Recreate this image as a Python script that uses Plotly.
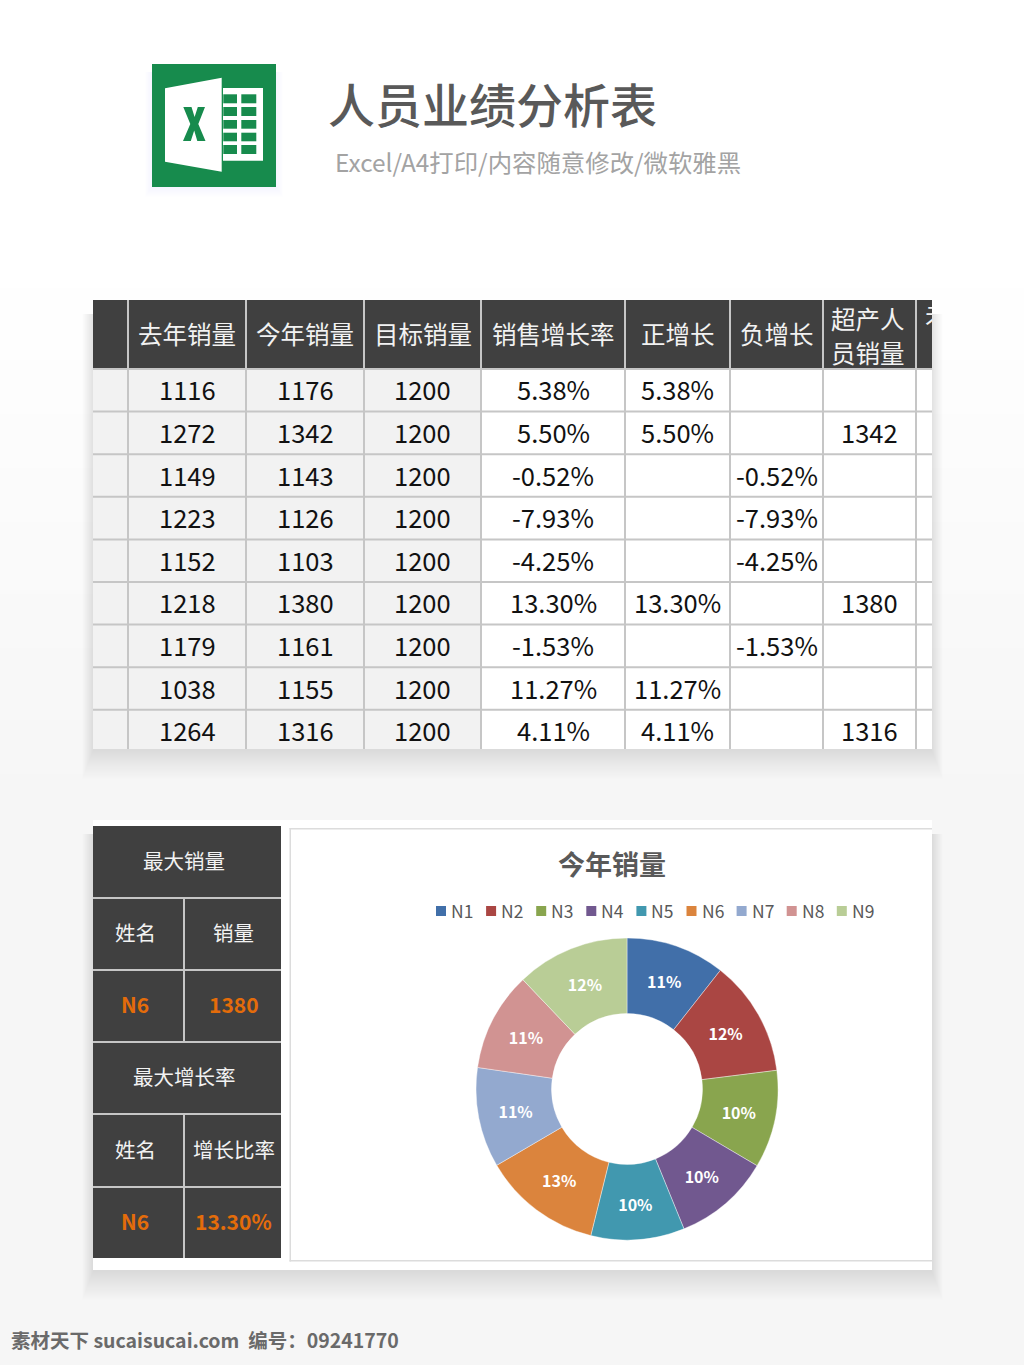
import plotly.graph_objects as go

# ---------- data ----------
headers = ["", "去年销量", "今年销量", "目标销量", "销售增长率", "正增长", "负增长", "", ""]
two_line_header = ["超产人", "员销量"]
last_year = [1116, 1272, 1149, 1223, 1152, 1218, 1179, 1038, 1264]
this_year = [1176, 1342, 1143, 1126, 1103, 1380, 1161, 1155, 1316]
target = [1200] * 9
growth = ["5.38%", "5.50%", "-0.52%", "-7.93%", "-4.25%", "13.30%", "-1.53%", "11.27%", "4.11%"]
pos_growth = ["5.38%", "5.50%", "", "", "", "13.30%", "", "11.27%", "4.11%"]
neg_growth = ["", "", "-0.52%", "-7.93%", "-4.25%", "", "-1.53%", "", ""]
over_sales = ["", "1342", "", "", "", "1380", "", "", "1316"]
names = ["N1", "N2", "N3", "N4", "N5", "N6", "N7", "N8", "N9"]
pie_shares = [10.6, 12.4, 10.45, 10.35, 10.0, 12.7, 10.7, 10.6, 12.1]
pie_colors = ["#416FA9", "#AA4643", "#89A54E", "#71588F", "#4198AF", "#DB843D", "#93A9CF", "#D19392", "#B9CD96"]
side_rows = [["最大销量"], ["姓名", "销量"], ["N6", "1380"], ["最大增长率"], ["姓名", "增长比率"], ["N6", "13.30%"]]

FONT = "Noto Sans CJK SC"
DARK = "#404040"
GRID = "#c6c6c6"
GREEN = "#178B4D"
shapes, notes = [], []


def rect(x0, y0, x1, y1, fill, opacity=1.0):
    shapes.append(dict(type="rect", xref="x", yref="y", x0=x0, y0=y0, x1=x1, y1=y1, fillcolor=fill,
                       opacity=opacity, layer="below", line=dict(width=0)))


def poly(path, fill):
    shapes.append(dict(type="path", xref="x", yref="y", layer="below", fillcolor=fill, line=dict(width=0), path=path))


def label(x, y, s, size, color, bold=False, family=FONT, anchor="center"):
    notes.append(dict(xref="x", yref="y", x=x, y=y, text=f"<b>{s}</b>" if bold else s, showarrow=False,
                      xanchor=anchor, yanchor="middle", align="center",
                      font=dict(family=family, size=size, color=color)))


def shadow(x0, y0, x1, y1):
    for g in range(1, 29):
        rect(x0 - g * 0.4, y0 + 14, x1 + g * 0.4, y1 + 1 + g * 1.05, "#000000", opacity=0.0052)


# ---------- page background ----------
top, bottom, steps = 270, 810, 30
rect(0, 0, 1024, top, "#ffffff")
for i in range(steps):
    v = round(255 - (255 - 246) * (i + 1) / steps)
    rect(0, top + (bottom - top) * i / steps, 1024, top + (bottom - top) * (i + 1) / steps + 1, f"rgb({v},{v},{v})")
rect(0, bottom, 1024, 1365, "#f6f6f6")

# ---------- excel icon ----------
for k in range(1, 11):
    rect(152 - k * .7, 72, 276 + k * .7, 187 + k, "#6f9ad0", opacity=0.009)
rect(152, 64, 276, 187, GREEN)
poly("M165,88.3 L221.7,77.7 L221.7,171.7 L165,161.7 Z", "#ffffff")
rect(223, 88, 263, 160.7, "#ffffff")
for (c0, c1) in [(223.3, 237), (241.3, 256.3)]:
    for (r0, r1) in [(94.3, 103.3), (107, 116), (120, 128.7), (132.7, 141.3), (145, 154)]:
        rect(c0, r0, c1, r1, GREEN)
poly("M183.3,107 L191.5,107 L194.6,117 L197.8,107 L205,107 L198.3,124 L205.5,141 L197.3,141 L194.2,130.5 "
     "L190.8,141 L183,141 L190.3,124 Z", GREEN)
label(492, 102, "人员业绩分析表", 47, "#595959", family="Noto Sans CJK SC Medium, Noto Sans CJK SC")
label(538, 161, "Excel/A4打印/内容随意修改/微软雅黑", 24.4, "#a3a3a3")

# ---------- upper table ----------
shadow(93, 300, 932, 749)
rect(93, 300, 932, 749, "#ffffff")
col_x = [93, 128, 246, 364, 481, 625, 730, 823, 916, 932]
header_bottom = 369
row_h = 42.6
rect(93, 300, 932, header_bottom, DARK)
rect(93, header_bottom, 481, 749, "#f2f2f2")
for x in col_x[1:-1]:
    rect(x - 1, 300, x + 1, 749, GRID)
rect(93, 368, 932, 370, GRID)
for i in range(1, 9):
    y = header_bottom + row_h * i
    rect(93, y - 1, 932, y + 1, GRID)
for i, h in enumerate(headers):
    if h:
        label((col_x[i] + col_x[i + 1]) / 2, 333, h, 24.5, "#f2f2f2")
label(868, 318, two_line_header[0], 24.5, "#f2f2f2")
label(868, 352, two_line_header[1], 24.5, "#f2f2f2")
columns = [last_year, this_year, target, growth, pos_growth, neg_growth, over_sales]
for c, col in enumerate(columns):
    cx = (col_x[c + 1] + col_x[c + 2]) / 2
    for r, v in enumerate(col):
        if v != "":
            label(cx, header_bottom + row_h * (r + .5) - 1.5, v, 25.5, "#111111")

# ---------- lower card ----------
shadow(93, 820, 932, 1270)
rect(93, 820, 932, 1270, "#ffffff")
rect(93, 826, 281, 1258, DARK)
side_y = [826, 898, 970, 1042, 1114, 1187, 1258]
for y in side_y[1:-1]:
    rect(93, y - 1, 281, y + 1, GRID)
for r, row in enumerate(side_rows):
    cy = (side_y[r] + side_y[r + 1]) / 2 - 2
    if len(row) == 1:
        label(184, cy, row[0], 20.5, "#f2f2f2")
    else:
        rect(183, side_y[r], 185, side_y[r + 1], GRID)
        orange = row[0] == "N6"
        color = "#E46C0A" if orange else "#f2f2f2"
        label(135, cy, row[0], 21 if orange else 20.5, color, bold=orange)
        label(233.5, cy, row[1], 21 if orange else 20.5, color, bold=orange)
# chart frame (open on the right, where the card ends)
rect(289.5, 828, 932, 829.5, "#dcdcdc")
rect(289.5, 1260, 932, 1261.5, "#dcdcdc")
rect(289.5, 828, 291, 1261.5, "#dcdcdc")
label(612, 863.5, "今年销量", 27, "#595959", bold=True)
for i, n in enumerate(names):
    lx = 436 + 50.1 * i
    rect(lx, 906, lx + 10, 916, pie_colors[i])
    label(lx + 13, 910, n, 17.5, "#595959", anchor="left")

# ---------- watermark ----------
label(9, 1339.5, "素材天下 sucaisucai.com&nbsp;&nbsp;编号：09241770", 19.5, "#6a6a6a", bold=True, anchor="left")

# ---------- figure ----------
W, H = 1024, 1365
cx_pie, cy_pie, rad = 627, 1089, 151
fig = go.Figure()
fig.add_trace(go.Pie(
    labels=names, values=pie_shares, hole=0.5, sort=False, direction="clockwise", rotation=0,
    marker=dict(colors=pie_colors, line=dict(color="#ffffff", width=0.4)),
    texttemplate="<b>%{percent:.0%}</b>", textposition="inside", insidetextorientation="horizontal",
    textfont=dict(family=FONT, size=16, color="#ffffff"), showlegend=False, hoverinfo="label+percent",
    domain=dict(x=[(cx_pie - rad) / W, (cx_pie + rad) / W], y=[1 - (cy_pie + rad) / H, 1 - (cy_pie - rad) / H]),
))
# the header of the next column, cut off by the edge of the table
fig.add_trace(go.Scatter(x=[925], y=[318], text=["未"], mode="text", textposition="middle right", cliponaxis=True,
                         textfont=dict(family=FONT, size=24.5, color="#f2f2f2"), xaxis="x2", yaxis="y2",
                         showlegend=False, hoverinfo="skip"))
axis = dict(visible=False, fixedrange=True)
fig.update_layout(
    width=W, height=H, margin=dict(l=0, r=0, t=0, b=0, pad=0), showlegend=False,
    paper_bgcolor="#ffffff", plot_bgcolor="rgba(0,0,0,0)", font=dict(family=FONT),
    xaxis=dict(range=[0, W], domain=[0, 1], **axis),
    yaxis=dict(range=[H, 0], domain=[0, 1], **axis),
    xaxis2=dict(range=[0, 932], domain=[0, 932 / W], anchor="y2", **axis),
    yaxis2=dict(range=[H, 0], domain=[0, 1], anchor="x2", **axis),
    shapes=shapes, annotations=notes,
)
fig.write_html("out.html", post_script="document.body.style.margin='0';", config=dict(displayModeBar=False))
